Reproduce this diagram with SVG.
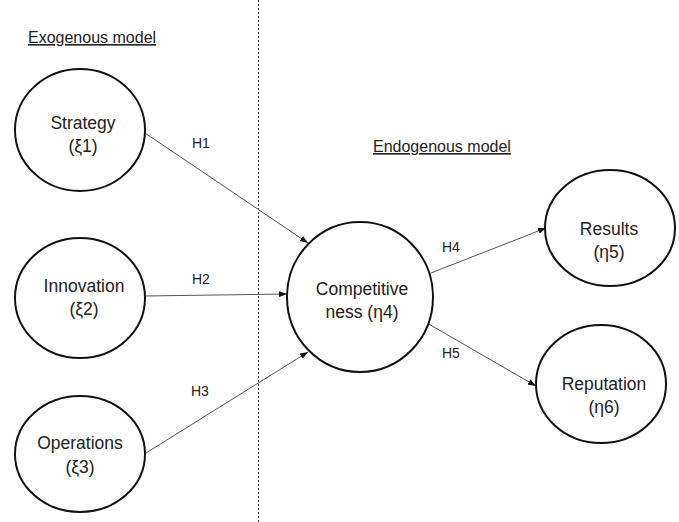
<svg xmlns="http://www.w3.org/2000/svg" width="679" height="522" viewBox="0 0 679 522">
<style>
.node{fill:#fff;stroke:#111;stroke-width:2}
.t{font-family:"Liberation Sans",Arial,sans-serif;font-size:17.5px;fill:#222;text-anchor:middle}
.lbl{font-family:"Liberation Sans",Arial,sans-serif;font-size:14px;fill:#222}
.hdr{font-family:"Liberation Sans",Arial,sans-serif;font-size:16px;fill:#222;text-decoration:underline}
.edge{stroke:#555;stroke-width:1;fill:none;marker-end:url(#ah)}
</style>
<defs>
<marker id="ah" markerWidth="8" markerHeight="6" refX="8" refY="3" orient="auto" markerUnits="userSpaceOnUse">
<path d="M0,0 L8,3 L0,6 Z" fill="#111"/>
</marker>
</defs>
<rect width="679" height="522" fill="#fff"/>
<line x1="258.5" y1="0" x2="258.5" y2="522" stroke="#333" stroke-width="1" stroke-dasharray="2,2"/>
<text class="hdr" x="28" y="43">Exogenous model</text>
<text class="hdr" x="373" y="152">Endogenous model</text>
<g id="connectors">
<line class="edge" x1="145" y1="133" x2="308" y2="243"/>
<line class="edge" x1="145" y1="296" x2="287" y2="294"/>
<line class="edge" x1="146" y1="453" x2="308" y2="352"/>
<line class="edge" x1="431" y1="273" x2="546" y2="228"/>
<line class="edge" x1="427" y1="323" x2="536" y2="386"/>
<text class="lbl" x="192" y="148">H1</text>
<text class="lbl" x="192" y="284">H2</text>
<text class="lbl" x="191" y="396">H3</text>
<text class="lbl" x="442" y="252">H4</text>
<text class="lbl" x="442" y="358">H5</text>
</g>
<g id="strategy">
<ellipse class="node" cx="80" cy="130" rx="65" ry="61"/>
<text class="t" x="83" y="129">Strategy</text>
<text class="t" x="83" y="152">(ξ1)</text>
</g>
<g id="innovation">
<ellipse class="node" cx="80" cy="298" rx="65" ry="60"/>
<text class="t" x="84" y="292">Innovation</text>
<text class="t" x="84" y="315">(ξ2)</text>
</g>
<g id="operations">
<ellipse class="node" cx="80" cy="454" rx="65" ry="58"/>
<text class="t" x="80" y="449">Operations</text>
<text class="t" x="80" y="473">(ξ3)</text>
</g>
<g id="competitiveness">
<ellipse class="node" cx="360" cy="297" rx="73" ry="75"/>
<text class="t" x="362" y="295">Competitive</text>
<text class="t" x="362" y="318">ness (η4)</text>
</g>
<g id="results">
<ellipse class="node" cx="610" cy="228" rx="65" ry="58"/>
<text class="t" x="609" y="235">Results</text>
<text class="t" x="609" y="258">(η5)</text>
</g>
<g id="reputation">
<ellipse class="node" cx="601" cy="384" rx="65" ry="59"/>
<text class="t" x="604" y="390">Reputation</text>
<text class="t" x="604" y="413">(η6)</text>
</g>
</svg>
